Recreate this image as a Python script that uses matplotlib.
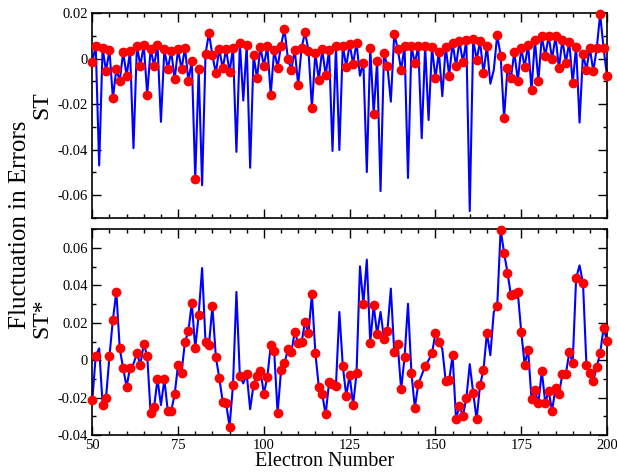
import numpy as np
import matplotlib
matplotlib.use("Agg")
import matplotlib.pyplot as plt
from matplotlib.ticker import MultipleLocator, FuncFormatter

plt.rcParams['font.family'] = ['Liberation Serif', 'DejaVu Serif']
plt.rcParams['axes.unicode_minus'] = False

# Electron numbers
electrons = list(range(50, 201))

# ST fluctuation (top panel), n = 50..200
st = [
    -0.0013, 0.0055, -0.0470, 0.0048, -0.0054, 0.0038, -0.0174, -0.0046, -0.0097, 0.0029,   # 50-59
    -0.0075, 0.0033, -0.0394, 0.0058, -0.0032, 0.0062, -0.0158, 0.0044, -0.0032, 0.0062,    # 60-69
    -0.0278, 0.0041, -0.0046, 0.0033, -0.0090, 0.0041, -0.0046, 0.0048, -0.0097, -0.0010,   # 70-79
    -0.0530, -0.0046, -0.0557, 0.0022, 0.0113, 0.0015, -0.0064, 0.0044, -0.0042, 0.0041,    # 80-89
    -0.0058, 0.0048, -0.0410, 0.0070, -0.0184, 0.0060, -0.0480, 0.0015, -0.0086, 0.0051,    # 90-99
    -0.0032, 0.0055, -0.0158, 0.0038, -0.0039, 0.0058, 0.0132, 0.0000, -0.0049, 0.0038,     # 100-109
    -0.0115, 0.0048, 0.0117, 0.0036, -0.0216, 0.0026, -0.0094, 0.0041, -0.0072, 0.0038,     # 110-119
    -0.0406, 0.0055, -0.0402, 0.0058, -0.0035, 0.0065, -0.0022, 0.0070, -0.0075, -0.0017,   # 120-129
    -0.0499, 0.0048, -0.0242, -0.0010, -0.0583, 0.0023, -0.0032, -0.0189, 0.0110, 0.0044,   # 130-139
    -0.0049, 0.0055, -0.0525, 0.0055, -0.0020, 0.0055, -0.0350, 0.0055, -0.0270, 0.0051,    # 140-149
    -0.0087, 0.0030, -0.0165, 0.0052, -0.0074, 0.0070, -0.0032, 0.0078, -0.0015, 0.0081,    # 150-159
    -0.0671, 0.0087, -0.0005, 0.0076, -0.0063, 0.0056, -0.0110, -0.0050, 0.0104, 0.0014,    # 160-169
    -0.0261, -0.0040, -0.0084, 0.0030, -0.0098, 0.0047, -0.0036, 0.0062, -0.0136, 0.0081,   # 170-179
    -0.0099, 0.0099, 0.0013, 0.0099, -0.0001, 0.0099, -0.0042, 0.0084, -0.0017, 0.0073,     # 180-189
    -0.0107, 0.0052, -0.0281, 0.0022, -0.0049, 0.0048, -0.0055, 0.0045, 0.0197, 0.0046,     # 190-199
    -0.0075,                                                                                 # 200
]
# electron numbers where the ST curve has no red marker
st_nodot = [52, 62, 70, 82, 92, 94, 96, 120, 122, 128, 130, 134, 137, 142, 146, 148,
            152, 160, 166, 167, 192]

# ST* fluctuation (bottom panel), n = 50..200
st_star = [
    -0.0213, 0.0024, 0.0063, -0.0237, -0.0201, 0.0022, 0.0217, 0.0365, 0.0063, -0.0044,    # 50-59
    -0.0142, -0.0039, -0.0020, 0.0036, -0.0023, 0.0086, 0.0024, -0.0284, -0.0252, -0.0101,  # 60-69
    -0.0240, -0.0103, -0.0271, -0.0270, -0.0183, -0.0023, -0.0066, 0.0098, 0.0155, 0.0306,  # 70-79
    0.0063, 0.0244, 0.0493, 0.0095, 0.0084, 0.0289, 0.0018, -0.0094, -0.0222, -0.0231,      # 80-89
    -0.0355, -0.0133, 0.0365, -0.0085, -0.0124, -0.0074, -0.0262, -0.0130, -0.0085, -0.0059,# 90-99
    -0.0178, -0.0092, 0.0080, 0.0049, -0.0284, -0.0053, -0.0017, 0.0058, 0.0042, 0.0152,    # 100-109
    0.0090, 0.0098, 0.0205, 0.0143, 0.0353, 0.0040, -0.0142, -0.0181, -0.0290, -0.0119,     # 110-119
    -0.0128, -0.0137, 0.0258, -0.0030, -0.0190, -0.0080, -0.0240, -0.0071, 0.0502, 0.0302,  # 120-129
    0.0538, 0.0093, 0.0294, 0.0139, 0.0258, 0.0116, 0.0157, 0.0383, 0.0042, 0.0086,         # 130-139
    -0.0156, 0.0015, 0.0302, -0.0068, -0.0254, -0.0127, -0.0080, -0.0030, 0.0000, 0.0036,   # 140-149
    0.0146, 0.0098, 0.0060, -0.0112, -0.0107, 0.0027, -0.0316, -0.0243, -0.0298, -0.0204,   # 150-159
    -0.0021, -0.0174, -0.0316, -0.0133, -0.0053, 0.0146, 0.0027, 0.0258, 0.0288, 0.0698,    # 160-169
    0.0575, 0.0468, 0.0347, 0.0356, 0.0363, 0.0152, -0.0023, 0.0057, -0.0209, -0.0160,      # 170-179
    -0.0231, -0.0058, -0.0227, -0.0165, -0.0271, -0.0146, -0.0181, -0.0074, -0.0074, 0.0042,# 180-189
    -0.0014, 0.0439, 0.0507, 0.0413, -0.0023, -0.0071, -0.0110, -0.0035, 0.0036, 0.0173,    # 190-199
    0.0104,                                                                                  # 200
]
st_star_nodot = [52, 62, 70, 82, 92, 94, 96, 122, 128, 130, 134, 137, 142, 146, 148,
                 152, 160, 166, 167, 192]

x_ticks = [50, 75, 100, 125, 150, 175, 200]
top_yticks = [-0.06, -0.04, -0.02, 0, 0.02]
bot_yticks = [-0.04, -0.02, 0, 0.02, 0.04, 0.06]


def fmt(v, pos):
    if abs(v) < 1e-9:
        return "0"
    return "%.2f" % v


fig = plt.figure(figsize=(6.17, 4.73), dpi=100)
ax1 = fig.add_axes([0.1496, 0.5397, 0.8342, 0.4322])
ax2 = fig.add_axes([0.1496, 0.0803, 0.8342, 0.4349])

x = np.array(electrons)
for ax, vals, nodot, yt, ylim in [
    (ax1, st, st_nodot, top_yticks, (-0.07, 0.02)),
    (ax2, st_star, st_star_nodot, bot_yticks, (-0.04, 0.07)),
]:
    v = np.array(vals, dtype=float)
    ax.plot(x, v, color='#0000ff', lw=1.5, zorder=2, clip_on=False)
    mask = ~np.isin(x, nodot)
    ax.plot(x[mask], v[mask], 'o', color='#ff0000', ms=6.0, mec='#ff0000', zorder=3, clip_on=False)
    ax.set_xlim(50, 200)
    ax.set_ylim(*ylim)
    ax.set_xticks(x_ticks)
    ax.xaxis.set_minor_locator(MultipleLocator(5))
    ax.set_yticks(yt)
    ax.yaxis.set_minor_locator(MultipleLocator(0.01))
    ax.yaxis.set_major_formatter(FuncFormatter(fmt))
    ax.tick_params(which='both', direction='in', top=True, right=True, labelsize=10.5, width=1.0, pad=3)
    ax.tick_params(which='major', length=6.5)
    ax.tick_params(which='minor', length=3.2)
    for s in ax.spines.values():
        s.set_linewidth(1.2)

ax1.tick_params(labelbottom=False)

fig.text(0.033, 0.525, 'Fluctuation in Errors', rotation=90, ha='center', va='center', fontsize=18)
fig.text(0.068, 1 - 105 / 473, 'ST', rotation=90, ha='center', va='center', fontsize=17)
fig.text(0.068, 1 - 318 / 473, 'ST*', rotation=90, ha='center', va='center', fontsize=17)
fig.text(325 / 617, 1 - 461 / 473, 'Electron Number', ha='center', va='center', fontsize=14.5)

fig.savefig('out.png', dpi=100)
